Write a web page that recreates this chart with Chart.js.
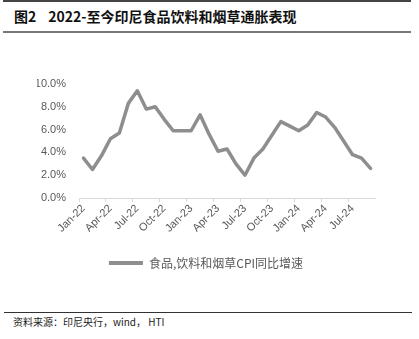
<!DOCTYPE html>
<html>
<head>
<meta charset="utf-8">
<script src="https://cdn.jsdelivr.net/npm/chart.js@4.4.1/dist/chart.umd.min.js"></script>
<style>
  html, body { margin: 0; padding: 0; background: #fff; }
  #wrap { position: relative; width: 419px; height: 339px; overflow: hidden; background: #fff; }
  .rule { position: absolute; left: 3px; width: 408px; }
  #title { position: absolute; left: 14px; top: 6px; font-family: "Noto Sans CJK SC", sans-serif; font-weight: bold; font-size: 14px; color: #111; white-space: pre; line-height: 20px; }
  #title span { margin-left: 12px; }
  #source { position: absolute; left: 13px; top: 314px; font-family: "Noto Sans CJK SC", sans-serif; font-size: 10px; color: #222; white-space: pre; line-height: 16px; }
  #cv { position: absolute; left: 0; top: 45px; }
</style>
</head>
<body>
<div id="wrap">
  <div class="rule" style="top:0px;height:2px;background:#444;"></div>
  <div id="title">图2<span>2022-至今印尼食品饮料和烟草通胀表现</span></div>
  <div class="rule" style="top:31px;height:2px;background:#777;"></div>
  <canvas id="cv" width="419" height="240"></canvas>
  <div class="rule" style="top:312px;height:1px;background:#333;left:4px;width:408px;"></div>
  <div id="source">资料来源：印尼央行，wind， HTI</div>
</div>
<script>
const categories = ["Jan-22","Feb-22","Mar-22","Apr-22","May-22","Jun-22","Jul-22","Aug-22","Sep-22","Oct-22","Nov-22","Dec-22",
  "Jan-23","Feb-23","Mar-23","Apr-23","May-23","Jun-23","Jul-23","Aug-23","Sep-23","Oct-23","Nov-23","Dec-23",
  "Jan-24","Feb-24","Mar-24","Apr-24","May-24","Jun-24","Jul-24","Aug-24","Sep-24"];
const seriesName = "食品,饮料和烟草CPI同比增速";
const seriesValues = [3.5,2.5,3.7,5.2,5.7,8.3,9.4,7.8,8.0,6.9,5.9,5.9,
  5.9,7.3,5.6,4.1,4.3,3.0,2.0,3.5,4.3,5.5,6.7,6.3,
  5.9,6.4,7.5,7.1,6.2,5.0,3.8,3.5,2.6];
const yTicks = [0,2,4,6,8,10];

const lineColor = "#8e8e8e";
const textColor = "#595959";
const axisColor = "#d9d9d9";

new Chart(document.getElementById("cv"), {
  type: "line",
  data: {
    labels: categories,
    datasets: [{
      label: seriesName,
      data: seriesValues,
      borderColor: lineColor,
      backgroundColor: lineColor,
      borderWidth: 3.5,
      pointRadius: 0,
      tension: 0,
      borderJoinStyle: "round",
      borderCapStyle: "round"
    }]
  },
  options: {
    responsive: false,
    animation: false,
    layout: { padding: { left: 37, right: 44, top: 39, bottom: 6 } },
    plugins: {
      tooltip: { enabled: false },
      legend: {
        display: true,
        position: "bottom",
        labels: {
          boxWidth: 34,
          boxHeight: 4,
          padding: 6,
          color: textColor,
          font: { family: "'Noto Sans CJK SC', sans-serif", size: 12 },
          generateLabels(chart) {
            const items = Chart.defaults.plugins.legend.labels.generateLabels(chart);
            items.forEach(it => { it.lineWidth = 0; it.fillStyle = lineColor; it.strokeStyle = lineColor; });
            return items;
          }
        }
      }
    },
    scales: {
      x: {
        type: "category",
        offset: true,
        afterFit(scale) { scale.height = 53; },
        grid: {
          display: true,
          offset: true,
          drawOnChartArea: false,
          drawTicks: true,
          tickLength: 4,
          color: ctx => (ctx.index % 3 === 0 ? axisColor : "rgba(0,0,0,0)")
        },
        border: { display: true, color: axisColor, width: 1 },
        ticks: {
          autoSkip: false,
          minRotation: 45,
          maxRotation: 45,
          padding: 0,
          color: textColor,
          font: { family: "'Liberation Sans', sans-serif", size: 11 },
          callback(value, index) { return index % 3 === 0 ? categories[index] : ""; }
        }
      },
      y: {
        min: 0,
        max: 10,
        afterFit(scale) { scale.width = 42; },
        afterBuildTicks(scale) { scale.ticks = yTicks.map(v => ({ value: v })); },
        grid: { display: false, drawTicks: false },
        border: { display: false },
        ticks: {
          padding: 13,
          color: textColor,
          font: { family: "'Liberation Sans', sans-serif", size: 11 },
          callback: v => v.toFixed(1) + "%"
        }
      }
    }
  }
});
</script>
</body>
</html>
